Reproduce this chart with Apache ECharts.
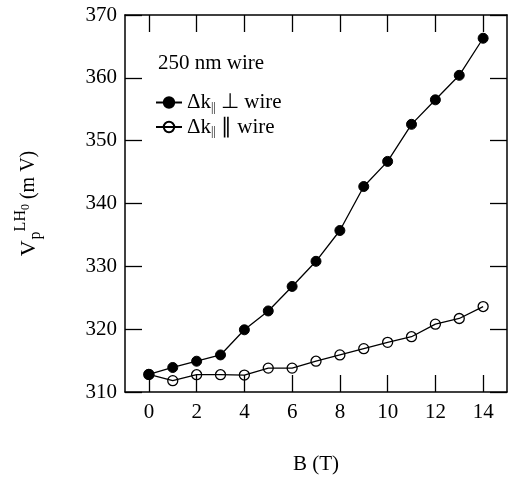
<!DOCTYPE html>
<html>
<head>
<meta charset="utf-8">
<script src="https://cdn.jsdelivr.net/npm/echarts@6/dist/echarts.min.js"></script>
<style>
  html, body { margin: 0; padding: 0; background: #fff; }
  #chart { width: 510px; height: 480px; }
</style>
</head>
<body>
<div id="chart"></div>
<script>
// Magnetic field B (T)
const fieldB = [0, 1, 2, 3, 4, 5, 6, 7, 8, 9, 10, 11, 12, 13, 14];
// Peak voltage V_p (mV), Δk perpendicular to the wire
const vPerp = [312.8, 313.9, 314.9, 315.9, 319.9, 322.9, 326.8, 330.8, 335.7, 342.7, 346.7, 352.6, 356.5, 360.4, 366.3];
// Peak voltage V_p (mV), Δk parallel to the wire
const vPar = [312.8, 311.8, 312.75, 312.75, 312.7, 313.8, 313.8, 314.9, 315.9, 316.9, 317.9, 318.8, 320.8, 321.7, 323.6];
// Tick positions
const xTicks = [0, 2, 4, 6, 8, 10, 12, 14];
const yTicks = [310, 320, 330, 340, 350, 360, 370];

const FONT = '"Liberation Serif", "Times New Roman", serif';
const INK = '#000';

const chart = echarts.init(document.getElementById('chart'), null, { renderer: 'canvas' });

function xAxisCfg(pos, showLabels) {
  return {
    type: 'value', position: pos, min: -1, max: 15,
    axisLine: { show: true, onZero: false, lineStyle: { color: INK, width: 1.5 } },
    axisTick: { show: true, inside: true, length: 17, customValues: xTicks, lineStyle: { color: INK, width: 1.3 } },
    axisLabel: { show: showLabels, customValues: xTicks, margin: 10, color: INK, fontFamily: FONT, fontSize: 21 },
    splitLine: { show: false }
  };
}
function yAxisCfg(pos, showLabels) {
  return {
    type: 'value', position: pos, min: yTicks[0], max: yTicks[yTicks.length - 1], interval: 10,
    axisLine: { show: true, onZero: false, lineStyle: { color: INK, width: 1.5 } },
    axisTick: { show: true, inside: true, length: 17, lineStyle: { color: INK, width: 1.3 } },
    axisLabel: { show: showLabels, margin: 8, color: INK, fontFamily: FONT, fontSize: 21 },
    splitLine: { show: false }
  };
}

const xMain = Object.assign(xAxisCfg('bottom', true), {
  name: 'B (T)', nameLocation: 'middle', nameGap: 62,
  nameTextStyle: { color: INK, fontFamily: FONT, fontSize: 21 }
});
const yMain = Object.assign(yAxisCfg('left', true), {
  name: '{v|V}{p|p}{s|LH}{z|0}{m| (m V)}',
  nameLocation: 'middle', nameGap: 80, nameRotate: 90,
  nameTextStyle: {
    color: INK, fontFamily: FONT,
    rich: {
      v: { fontFamily: FONT, fontSize: 22, color: INK },
      p: { fontFamily: FONT, fontSize: 16, color: INK, padding: [14, 0, 0, 1] },
      s: { fontFamily: FONT, fontSize: 16, color: INK, padding: [0, 0, 16, 0] },
      z: { fontFamily: FONT, fontSize: 12, color: INK, padding: [0, 0, 6, 0] },
      m: { fontFamily: FONT, fontSize: 20, color: INK }
    }
  }
});

chart.setOption({
  animation: false,
  backgroundColor: '#fff',
  grid: { left: 125, right: 3, top: 15, bottom: 79 },
  title: {
    text: '250 nm wire', left: 153, top: 48,
    textStyle: { color: INK, fontFamily: FONT, fontSize: 21, fontWeight: 'normal' }
  },
  legend: {
    orient: 'vertical', left: 150, top: 87, itemGap: 3,
    itemWidth: 26, itemHeight: 13,
    textStyle: {
      color: INK, fontFamily: FONT, fontSize: 21,
      rich: {
        a: { fontFamily: FONT, fontSize: 21, color: INK },
        b: { fontFamily: FONT, fontSize: 12, color: INK, padding: [10, 0, 0, 0] }
      }
    },
    formatter: function (name) {
      return name === 'perp' ? '{a|Δk}{b|||}{a| ⊥ wire}' : '{a|Δk}{b|||}{a| ∥ wire}';
    },
    data: ['perp', 'par']
  },
  xAxis: [xMain, xAxisCfg('top', false)],
  yAxis: [yMain, yAxisCfg('right', false)],
  series: [
    {
      // hollow markers: the connecting line shows through each circle
      name: 'par', type: 'line', xAxisIndex: 0, yAxisIndex: 0,
      data: fieldB.map((b, i) => [b, vPar[i]]),
      symbol: 'circle', symbolSize: 10,
      lineStyle: { color: INK, width: 1.3 },
      itemStyle: { color: 'rgba(255,255,255,0)', borderColor: INK, borderWidth: 1.3 }
    },
    {
      name: 'perp', type: 'line', xAxisIndex: 0, yAxisIndex: 0,
      data: fieldB.map((b, i) => [b, vPerp[i]]),
      symbol: 'circle', symbolSize: 10,
      lineStyle: { color: INK, width: 1.3 },
      itemStyle: { color: INK, borderColor: INK, borderWidth: 1 }
    }
  ]
});
</script>
</body>
</html>
